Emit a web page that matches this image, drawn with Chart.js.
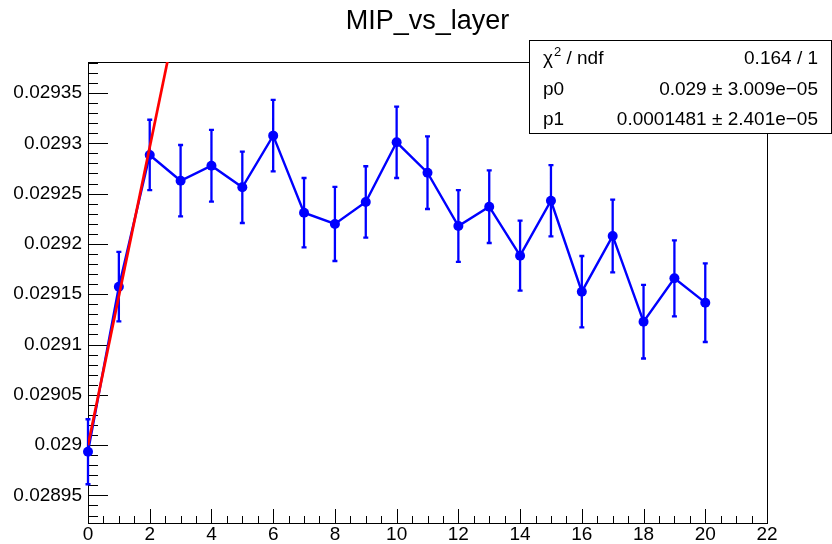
<!DOCTYPE html>
<html>
<head>
<meta charset="utf-8">
<script src="https://cdn.jsdelivr.net/npm/chart.js@4.4.1/dist/chart.umd.min.js"></script>
<style>
  html, body { margin: 0; padding: 0; background: #fff; }
  canvas { display: block; }
</style>
</head>
<body>
<canvas id="mipChart" width="832" height="544"></canvas>
<script>
// 데이터
const layers = [0, 1, 2, 3, 4, 5, 6, 7, 8, 9, 10, 11, 12, 13, 14, 15, 16, 17, 18, 19, 20];
const mipValues = [0.0289934, 0.0291575, 0.0292884, 0.0292628, 0.0292777, 0.0292563, 0.0293076,
                   0.0292310, 0.0292198, 0.0292417, 0.0293010, 0.0292708, 0.0292178, 0.0292370,
                   0.0291883, 0.0292429, 0.0291525, 0.0292079, 0.0291227, 0.0291658, 0.0291416];
const mipErrors = [3.23e-5, 3.45e-5, 3.50e-5, 3.55e-5, 3.56e-5, 3.55e-5, 3.56e-5,
                   3.45e-5, 3.68e-5, 3.55e-5, 3.55e-5, 3.61e-5, 3.56e-5, 3.61e-5,
                   3.48e-5, 3.55e-5, 3.55e-5, 3.61e-5, 3.66e-5, 3.78e-5, 3.91e-5];

// 피팅 결과 (pol1)
const fitP0 = 0.029;
const fitP1 = 0.0001481;
const fitRange = [0, 22];

// 축 눈금
const xTicks = [0, 2, 4, 6, 8, 10, 12, 14, 16, 18, 20, 22];
const xTickLabels = ['0', '2', '4', '6', '8', '10', '12', '14', '16', '18', '20', '22'];
const yTicks = [0.02895, 0.029, 0.02905, 0.0291, 0.02915, 0.0292, 0.02925, 0.0293, 0.02935];
const yTickLabels = ['0.02895', '0.029', '0.02905', '0.0291', '0.02915', '0.0292', '0.02925', '0.0293', '0.02935'];
const yMin = 0.0289226;
const yMax = 0.0293808;

// 통계 박스
const statLabels = ['/ ndf', 'p0', 'p1'];
const statValues = ['0.164 / 1', '0.029 ± 3.009e\u221205', '0.0001481 ± 2.401e\u221205'];

const titleText = 'MIP_vs_layer';
const FONT = '"Liberation Sans", Arial, Helvetica, sans-serif';

// ROOT 스타일: 프레임, 안쪽 눈금, 오차 막대, 제목, 통계 박스
const rootStyle = {
    id: 'rootStyle',
    beforeDatasetsDraw(chart) {
        const { ctx, chartArea: a, scales: { x, y } } = chart;
        ctx.save();
        // 프레임
        ctx.strokeStyle = '#000';
        ctx.lineWidth = 1;
        ctx.strokeRect(a.left + 0.5, a.top + 0.5, a.right - a.left, a.bottom - a.top);

        // y 눈금 (안쪽)
        const yStep = (yTicks[1] - yTicks[0]) / 5;
        ctx.beginPath();
        for (let k = -10; k <= (yTicks.length - 1) * 5 + 10; k++) {
            const v = yTicks[0] + k * yStep;
            if (v < yMin || v > yMax) continue;
            const py = Math.round(y.getPixelForValue(v)) + 0.5;
            const len = (k % 5 === 0) ? 20 : 10;
            ctx.moveTo(a.left, py);
            ctx.lineTo(a.left + len, py);
        }
        // x 눈금 (안쪽)
        const xStep = (xTicks[1] - xTicks[0]) / 4;
        for (let k = 0; k <= (xTicks.length - 1) * 4; k++) {
            const v = xTicks[0] + k * xStep;
            const px = Math.round(x.getPixelForValue(v)) + 0.5;
            const len = (k % 4 === 0) ? 14 : 7;
            ctx.moveTo(px, a.bottom);
            ctx.lineTo(px, a.bottom - len);
        }
        ctx.stroke();

        // 오차 막대
        ctx.strokeStyle = '#0000ff';
        ctx.lineWidth = 2.3;
        ctx.beginPath();
        layers.forEach((l, i) => {
            const px = x.getPixelForValue(l);
            const top = y.getPixelForValue(mipValues[i] + mipErrors[i]);
            const bot = y.getPixelForValue(mipValues[i] - mipErrors[i]);
            ctx.moveTo(px, top); ctx.lineTo(px, bot);
            ctx.moveTo(px - 2.5, top); ctx.lineTo(px + 2.5, top);
            ctx.moveTo(px - 2.5, bot); ctx.lineTo(px + 2.5, bot);
        });
        ctx.stroke();
        ctx.restore();
    },
    afterDraw(chart) {
        const { ctx, chartArea: a } = chart;
        ctx.save();
        // 제목
        ctx.fillStyle = '#000';
        ctx.font = '27px ' + FONT;
        ctx.textAlign = 'center';
        ctx.textBaseline = 'alphabetic';
        ctx.fillText(titleText, (a.left + a.right) / 2, 29);

        // 통계 박스
        ctx.fillStyle = '#fff';
        ctx.fillRect(529.5, 40.5, 302, 93);
        ctx.strokeStyle = '#000';
        ctx.lineWidth = 1;
        ctx.strokeRect(529.5, 40.5, 302, 93);

        const baselines = [64, 95, 125];
        const leftX = 543, rightX = 818;
        ctx.fillStyle = '#000';
        ctx.font = '19px ' + FONT;
        ctx.textAlign = 'left';
        // χ² / ndf
        ctx.fillText('χ', leftX, baselines[0]);
        let cx = leftX + ctx.measureText('χ').width;
        ctx.font = '13px ' + FONT;
        ctx.fillText('2', cx + 1, baselines[0] - 8);
        cx += ctx.measureText('2').width + 1;
        ctx.font = '19px ' + FONT;
        ctx.fillText(' ' + statLabels[0], cx, baselines[0]);
        ctx.fillText(statLabels[1], leftX, baselines[1]);
        ctx.fillText(statLabels[2], leftX, baselines[2]);
        ctx.textAlign = 'right';
        statValues.forEach((t, i) => ctx.fillText(t, rightX, baselines[i]));
        ctx.restore();
    }
};

const data = {
    datasets: [
        {
            label: 'fit',
            data: fitRange.map(v => ({ x: v, y: fitP0 + fitP1 * v })),
            borderColor: '#ff0000',
            borderWidth: 2.7,
            pointRadius: 0,
            fill: false,
            order: 0
        },
        {
            label: 'MIP',
            data: layers.map((l, i) => ({ x: l, y: mipValues[i] })),
            borderColor: '#0000ff',
            backgroundColor: '#0000ff',
            borderWidth: 2.4,
            pointRadius: 5,
            pointBorderWidth: 0,
            fill: false,
            clip: false,
            order: 1
        }
    ]
};

const options = {
    responsive: false,
    animation: false,
    events: [],
    layout: { padding: { left: 0, right: 65, top: 62, bottom: 0 } },
    plugins: { legend: { display: false }, tooltip: { enabled: false }, title: { display: false } },
    scales: {
        x: {
            type: 'linear',
            min: 0,
            max: 22,
            afterFit(s) { s.height = 21; },
            afterBuildTicks(s) { s.ticks = xTicks.map(v => ({ value: v })); },
            ticks: {
                autoSkip: false,
                maxRotation: 0,
                padding: 0,
                color: '#000',
                font: { family: FONT, size: 19 },
                callback: (v, i) => xTickLabels[i]
            },
            grid: { display: false, drawTicks: false },
            border: { display: false }
        },
        y: {
            type: 'linear',
            min: yMin,
            max: yMax,
            afterFit(s) { s.width = 88; },
            afterBuildTicks(s) { s.ticks = yTicks.map(v => ({ value: v })); },
            ticks: {
                autoSkip: false,
                padding: 6,
                color: '#000',
                font: { family: FONT, size: 19 },
                callback: (v, i) => yTickLabels[i]
            },
            grid: { display: false, drawTicks: false },
            border: { display: false }
        }
    }
};

const ctx = document.getElementById('mipChart').getContext('2d');
const mipChart = new Chart(ctx, {
    type: 'line',
    data: data,
    options: options,
    plugins: [rootStyle]
});
</script>
</body>
</html>
